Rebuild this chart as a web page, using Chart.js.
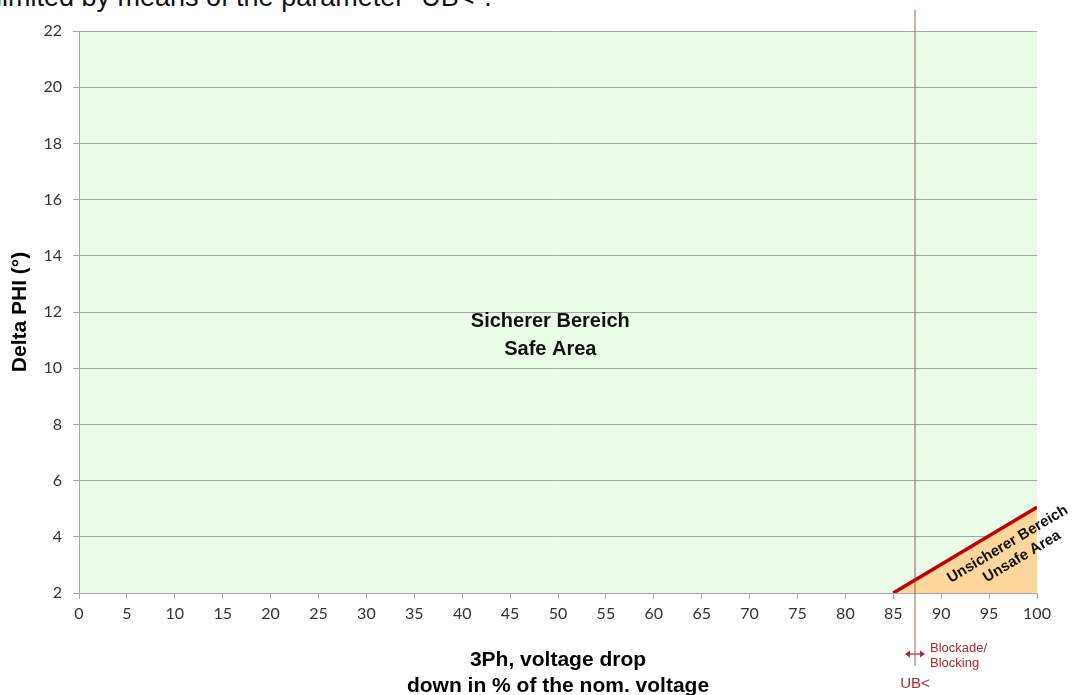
<!DOCTYPE html>
<html>
<head>
<meta charset="utf-8">
<script src="https://cdn.jsdelivr.net/npm/chart.js@4/dist/chart.umd.min.js"></script>
<style>
  html, body { margin: 0; padding: 0; background: #fff; overflow: hidden; }
  #wrap { position: relative; width: 1073px; height: 695px; }
  #lead { position: absolute; left: -4px; top: -16px; font: 27px "Liberation Sans", Arial, sans-serif; line-height: 27px; color: #111; white-space: nowrap; }
  canvas { position: absolute; left: 0; top: 0; }
</style>
</head>
<body>
<div id="wrap">
  <div id="lead">limited by means of the parameter "UB&lt;".</div>
  <canvas id="phiChart" width="1073" height="695"></canvas>
</div>
<script>
// axis ranges / ticks
const xRange = [0, 100];
const xStep = 5;
const yRange = [2, 22];
const yStep = 2;

// boundary between safe and unsafe area (voltage drop %, delta phi °)
const limitX = [85, 100];
const limitY = [2, 5.05];

// UB< blocking threshold
const ubLimit = 87.3;

// labels
const safeLabel = ["Sicherer Bereich", "Safe Area"];
const safeLabelPos = [49.2, 11.15];
const unsafeLabel = ["Unsicherer Bereich", "Unsafe Area"];
const unsafeLabelPos = [97.6, 3.5];
const blockLabel = ["Blockade/", "Blocking"];
const ubLabel = "UB<";

const gridColor = "#A6A6A6";
const darkRed = "#A52A35";

const areaPlugin = {
  id: "areas",
  beforeDraw(chart) {
    const { ctx, chartArea } = chart;
    ctx.save();
    ctx.fillStyle = "#EBFDE9";
    ctx.fillRect(chartArea.left, chartArea.top, chartArea.right - chartArea.left, chartArea.bottom - chartArea.top);
    ctx.restore();
  },
  afterDraw(chart) {
    const { ctx } = chart;
    const xs = chart.scales.x, ys = chart.scales.y;

    // safe area text
    ctx.save();
    ctx.fillStyle = "#111";
    ctx.font = "bold 20px 'Liberation Sans', Arial, sans-serif";
    ctx.textAlign = "center";
    ctx.textBaseline = "middle";
    const sx = xs.getPixelForValue(safeLabelPos[0]);
    const sy = ys.getPixelForValue(safeLabelPos[1]);
    ctx.fillText(safeLabel[0], sx, sy - 14);
    ctx.fillText(safeLabel[1], sx, sy + 14);
    ctx.restore();

    // unsafe area text, rotated along boundary
    const ang = Math.atan2(
      ys.getPixelForValue(limitY[1]) - ys.getPixelForValue(limitY[0]),
      xs.getPixelForValue(limitX[1]) - xs.getPixelForValue(limitX[0])
    );
    ctx.save();
    ctx.translate(xs.getPixelForValue(unsafeLabelPos[0]), ys.getPixelForValue(unsafeLabelPos[1]));
    ctx.rotate(ang);
    ctx.fillStyle = "#111";
    ctx.font = "bold 15px 'Liberation Sans', Arial, sans-serif";
    ctx.textAlign = "center";
    ctx.textBaseline = "middle";
    ctx.fillText(unsafeLabel[0], -2, -9);
    ctx.fillText(unsafeLabel[1], 4, 9);
    ctx.restore();

    // UB< vertical line
    const ux = Math.round(xs.getPixelForValue(ubLimit));
    ctx.save();
    ctx.strokeStyle = "rgba(150, 75, 65, 0.45)";
    ctx.lineWidth = 2;
    ctx.beginPath();
    ctx.moveTo(ux, 10);
    ctx.lineTo(ux, 666);
    ctx.stroke();

    // double arrow
    const ay = 654;
    ctx.strokeStyle = darkRed;
    ctx.fillStyle = darkRed;
    ctx.lineWidth = 1.2;
    ctx.beginPath();
    ctx.moveTo(ux - 8, ay);
    ctx.lineTo(ux + 8, ay);
    ctx.stroke();
    ctx.beginPath();
    ctx.moveTo(ux - 10, ay); ctx.lineTo(ux - 5, ay - 3.5); ctx.lineTo(ux - 5, ay + 3.5); ctx.closePath();
    ctx.moveTo(ux + 10, ay); ctx.lineTo(ux + 5, ay - 3.5); ctx.lineTo(ux + 5, ay + 3.5); ctx.closePath();
    ctx.fill();

    ctx.font = "13px 'Liberation Sans', Arial, sans-serif";
    ctx.textAlign = "left";
    ctx.textBaseline = "middle";
    ctx.fillText(blockLabel[0], ux + 15, 648);
    ctx.fillText(blockLabel[1], ux + 15, 663);
    ctx.font = "15px 'Liberation Sans', Arial, sans-serif";
    ctx.textAlign = "center";
    ctx.fillText(ubLabel, ux, 684);
    ctx.restore();
  }
};

const ctx = document.getElementById("phiChart").getContext("2d");

new Chart(ctx, {
  type: "line",
  data: {
    datasets: [
      {
        label: "Unsafe area",
        data: limitX.map((x, i) => ({ x: x, y: limitY[i] })),
        borderColor: "#C00000",
        borderWidth: 3.5,
        backgroundColor: "#FFD79C",
        fill: "start",
        pointRadius: 0,
        tension: 0
      }
    ]
  },
  options: {
    responsive: false,
    animation: false,
    layout: { padding: { top: 31, right: 36, left: 0, bottom: 0 } },
    plugins: {
      legend: { display: false },
      tooltip: { enabled: false }
    },
    scales: {
      x: {
        type: "linear",
        min: xRange[0],
        max: xRange[1],
        afterFit: (s) => { s.height = 102; },
        ticks: {
          stepSize: xStep,
          color: "#333",
          padding: 5,
          font: { family: "Lato, 'Open Sans', sans-serif", size: 16 }
        },
        grid: { drawOnChartArea: false, color: gridColor, tickLength: 6 },
        border: { color: gridColor },
        title: {
          display: true,
          text: ["3Ph, voltage drop", "down in % of the nom. voltage"],
          color: "#000",
          font: { family: "'Liberation Sans', Arial, sans-serif", size: 21, weight: "bold", lineHeight: 1.24 },
          padding: { top: 0, bottom: -4 }
        }
      },
      y: {
        type: "linear",
        min: yRange[0],
        max: yRange[1],
        afterFit: (s) => { s.width = 79; },
        ticks: {
          stepSize: yStep,
          color: "#333",
          padding: 11,
          font: { family: "Lato, 'Open Sans', sans-serif", size: 16 }
        },
        grid: { color: gridColor, tickLength: 6 },
        border: { color: gridColor },
        title: {
          display: true,
          text: "Delta PHI (°)",
          color: "#000",
          font: { family: "'Liberation Sans', Arial, sans-serif", size: 21, weight: "bold", lineHeight: 1.15 },
          padding: { top: 8, bottom: 0 }
        }
      }
    }
  },
  plugins: [areaPlugin]
});
</script>
</body>
</html>
